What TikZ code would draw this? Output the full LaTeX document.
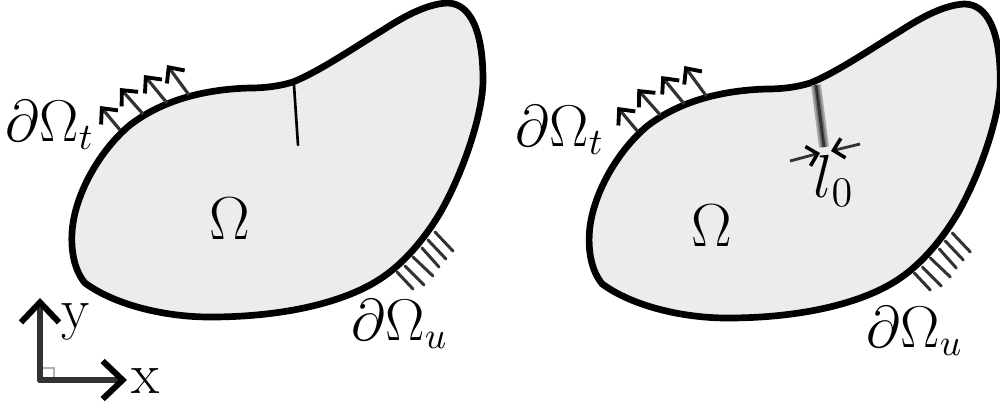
\documentclass[tikz,border=0pt]{standalone}
\usepackage{tikz}
\usetikzlibrary{arrows.meta}
\RequirePackage{amsmath,amsfonts,amssymb}
\definecolor{bodygray}{RGB}{236,236,236}
\definecolor{darkline}{RGB}{50,50,50}
\newcommand{\bodyoutline}{(85,283) .. controls (74,270) and (71,250) .. (72,233)
  .. controls (74,195) and (100,150) .. (130,125)
  .. controls (165,98) and (210,89) .. (250,88)
  .. controls (265,88) and (280,86) .. (293,82)
  .. controls (320,71) and (355,47) .. (383,30)
  .. controls (400,19) and (425,4) .. (447,3)
  .. controls (470,3) and (483,30) .. (483,80)
  .. controls (483,115) and (462,175) .. (440,213)
  .. controls (425,238) and (405,262) .. (383,277)
  .. controls (350,300) and (290,317) .. (210,317)
  .. controls (165,317) and (115,305) .. (85,283) -- cycle}
\tikzset{
  bodyshape/.style={line width=1.9pt, draw=black, fill=bodygray},
  loadarrow/.style={line width=0.9pt, darkline, -{Straight Barb[black, length=1.2mm, width=2.2mm, line width=1.1pt]}},
  hatchline/.style={line width=0.85pt, darkline},
  axisarrow/.style={line width=1.7pt, darkline, line cap=round, -{Straight Barb[black, length=2mm, width=3.8mm, line width=1.7pt]}},
  gaparrow/.style={line width=0.8pt, darkline, -{Straight Barb[black, length=1mm, width=2mm, line width=1pt]}},
  biglabel/.style={inner sep=0pt, font=\fontsize{16.5}{20}\selectfont},
  tracelabel/.style={inner sep=0pt, scale=0.97, font=\fontsize{16}{20}\selectfont}
}
\begin{document}
\begin{tikzpicture}[x=0.01cm, y=-0.01cm]
  \useasboundingbox (0,0) rectangle (1000,405);

  % Left body
  \begin{scope}
    \draw[bodyshape] \bodyoutline;
    \draw[line width=0.75pt, black, line cap=round] (294,85) -- (298,145);
    \foreach \xa/\ya/\xb/\yb in {120/130/100/106, 143/114/120/88, 167/103/144/75, 189/95/167/65}
      \draw[loadarrow] (\xa,\ya) -- (\xb,\yb);
    \foreach \xa/\ya/\xb/\yb in {397/272/413/289, 405/266/424/285, 413/257/433/276, 422/248/439/267, 428/240/446/259, 435/232/453/251}
      \draw[hatchline, line cap=round] (\xa,\ya) -- (\xb,\yb);
    \node[biglabel] (omegaleft) at (229.5,219) {$\Omega$};
    \node[tracelabel] (tractionleft) at (50,125) {$\partial\Omega_t$};
    \node[tracelabel] (fixedleft) at (400,324) {$\partial\Omega_u$};
  \end{scope}

  % Right body
  \begin{scope}[xshift=5.17cm, yshift=-0.01cm]
    \draw[bodyshape] \bodyoutline;
    \foreach \xa/\ya/\xb/\yb in {120/130/100/106, 143/114/120/88, 167/103/144/75, 189/95/167/65}
      \draw[loadarrow] (\xa,\ya) -- (\xb,\yb);
    \foreach \xa/\ya/\xb/\yb in {397/272/413/289, 405/266/424/285, 413/257/433/276, 422/248/439/267, 428/240/446/259, 435/232/453/251}
      \draw[hatchline, line cap=round] (\xa,\ya) -- (\xb,\yb);
  \end{scope}
  \node[biglabel] (omegaright) at (712,226) {$\Omega$};
  \node[tracelabel] (tractionright) at (560,130) {$\partial\Omega_t$};
  \node[tracelabel] (fixedright) at (915,331) {$\partial\Omega_u$};

  % Smeared crack
  \draw[line width=2.8pt, gray!70] (816,85) -- (824,147);
  \draw[line width=1.7pt, black!55] (816,85) -- (824,147);
  \draw[line width=0.8pt, black!80] (816,85) -- (824,147);
  \draw[gaparrow] (790,161) -- (820,153);
  \draw[gaparrow] (860,144) -- (831,151);
  \node[biglabel] (widthlabel) at (834,181) {$l_0$};

  % Axes
  \coordinate (origin) at (40,380);
  \coordinate (ytip) at (40,298);
  \coordinate (xtip) at (127,380);
  \draw[line width=0.3pt, gray!60, fill=white] (41,368) rectangle (54,380);
  \draw[axisarrow] (origin) -- (ytip);
  \draw[axisarrow] (origin) -- (xtip);
  \node[biglabel] (ylabel) at (76,322) {y};
  \node[biglabel] (xlabel) at (146,381) {x};
\end{tikzpicture}
\end{document}
